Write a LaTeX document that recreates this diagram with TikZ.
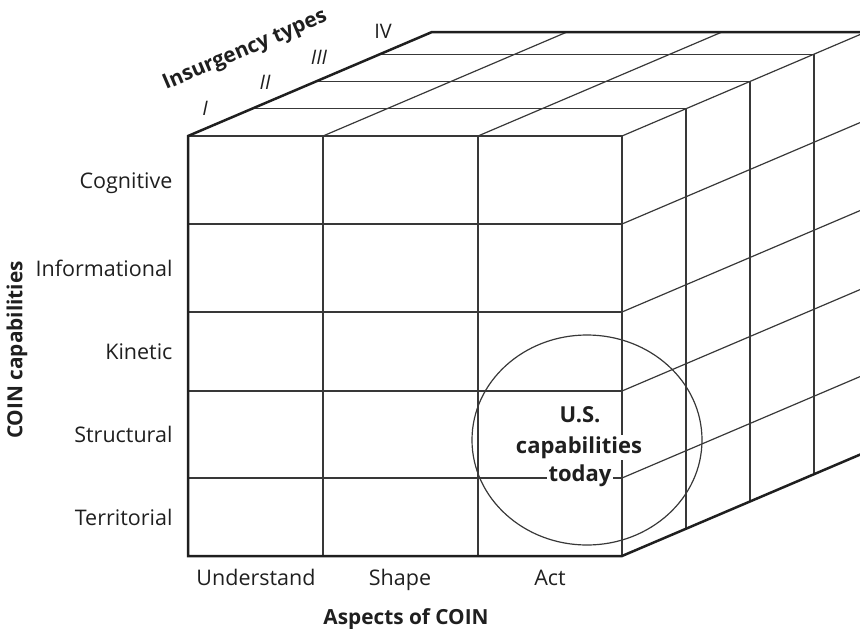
\documentclass[tikz,border=0pt]{standalone}
\usepackage{fontspec}
\setmainfont{Open Sans}
\tikzset{>=stealth}
\tikzset{
  gridline/.style={draw=black!78, line width=1.2pt},
  edgeline/.style={draw=black!88, line width=2.5pt, line join=miter},
  rowlabel/.style={anchor=base east, text=black!88, font=\fontsize{21.5}{25}\selectfont},
  collabel/.style={anchor=base, text=black!88, font=\fontsize{21.5}{25}\selectfont},
  axislabel/.style={text=black!88, font=\fontsize{20.8}{25}\selectfont\bfseries},
  typelabel/.style={text=black!88, font=\fontsize{20}{24}\selectfont},
  todaylabel/.style={anchor=base, fill=white, inner sep=1.5pt, text=black!88, font=\fontsize{22}{26}\selectfont\bfseries},
}

\begin{document}
\begin{tikzpicture}[x=1pt, y=-1pt]
    \useasboundingbox (0,0) rectangle (860,630);
    \begin{scope}
    \clip (0,0) rectangle (860,630);
    \foreach \y in {224,312,391,478} \draw[gridline] (188,\y) -- (622,\y);
    \foreach \x in {323,478} \draw[gridline] (\x,136) -- (\x,556);
    \draw[gridline] (188,136) -- (622,136) -- (622,556);
    \foreach \x in {323,478,622} \draw[gridline] (\x,136) -- ++(244,-104);
    \foreach \y in {224,312,391,478} \draw[gridline] (622,\y) -- ++(300,-127.8);
    \foreach \d in {64,128,192} \draw[gridline] (188+\d,136-0.426*\d) -- (622+\d,136-0.426*\d) -- (622+\d,556-0.426*\d);
    \draw[edgeline] (1000,32) -- (432,32) -- (188,136) -- (188,556) -- (622,556) -- ++(300,-127.8);
    \draw[gridline] (587,440) ellipse [x radius=115pt, y radius=105pt];
    \end{scope}

    \node[rowlabel] (cognitive) at (176,188) {Cognitive};
    \node[rowlabel] (informational) at (176,276) {Informational};
    \node[rowlabel] (kinetic) at (176,359) {Kinetic};
    \node[rowlabel] (structural) at (176,442) {Structural};
    \node[rowlabel] (territorial) at (176,525) {Territorial};
    \node[axislabel, rotate=90] (capabilities) at (17,350) {COIN capabilities};

    \node[collabel] (understand) at (256,585) {Understand};
    \node[collabel] (shape) at (400,585) {Shape};
    \node[collabel] (act) at (550,585) {Act};
    \node[axislabel, anchor=base] (aspects) at (406,624) {Aspects of COIN};

    \node[axislabel, anchor=base west, rotate=23.1, inner sep=0pt] (insurgency) at (166,90) {Insurgency types};
    \node[typelabel] (typeI) at (205,108) {\itshape I};
    \node[typelabel] (typeII) at (265,82) {\itshape II};
    \node[typelabel] (typeIII) at (319,57) {\itshape III};
    \node[typelabel] (typeIV) at (383,31) {IV};

    \node[todaylabel] (us) at (580,422) {U.S.};
    \node[todaylabel] (capab) at (579,453) {capabilities};
    \node[todaylabel] (today) at (580,481) {today};
\end{tikzpicture}
\end{document}
